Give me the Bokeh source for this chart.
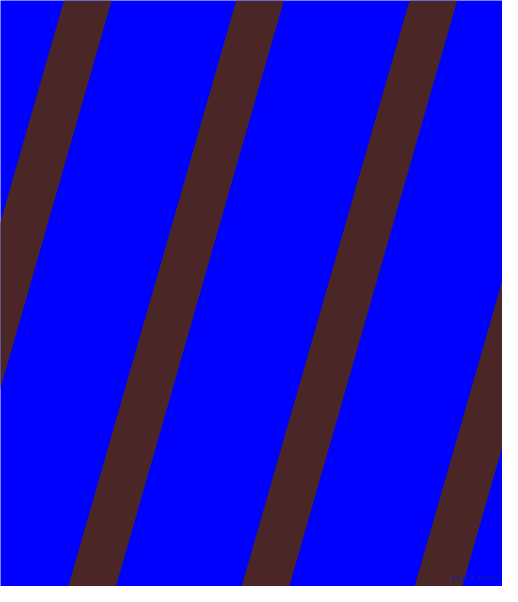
from bokeh.plotting import figure
from bokeh.models import Range1d
from bokeh.embed import file_html
from bokeh.resources import INLINE
from bokeh.core.properties import value

# Image geometry (reference pixels)
img_w = 518
img_h = 602
# left edge of each stripe where it meets the top edge (y=0)
stripe_top_left = [-109.0, 63.5, 235.7, 409.0, 582.0]
stripe_width = 47.7          # horizontal width of a stripe
stripe_shift = -172.5        # horizontal drift from top to bottom
bg_color = "#0000ff"
stripe_color = "#4a2626"
watermark = "pixlis.com"

margin = 8
W = img_w - 2 * margin
H = img_h - 2 * margin

p = figure(width=W, height=H, output_backend="svg", toolbar_location=None,
           x_range=Range1d(0, W),
           y_range=Range1d(H, 0),
           min_border=0, background_fill_color=bg_color,
           border_fill_color=bg_color, outline_line_color=None)
p.axis.visible = False
p.grid.visible = False

xs, ys = [], []
for x0 in stripe_top_left:
    xs.append([x0, x0 + stripe_width, x0 + stripe_width + stripe_shift, x0 + stripe_shift])
    ys.append([0, 0, img_h, img_h])
p.patches(xs, ys, fill_color=stripe_color, line_color=None)

p.text(x=[W - 6], y=[H - 4], text=[watermark], text_align="right",
       text_baseline="bottom", text_font=value("DejaVu Sans"),
       text_font_size="9px", text_color="#1a1ab0", text_alpha=0.8)

open("out.html", "w").write(file_html(p, INLINE))
